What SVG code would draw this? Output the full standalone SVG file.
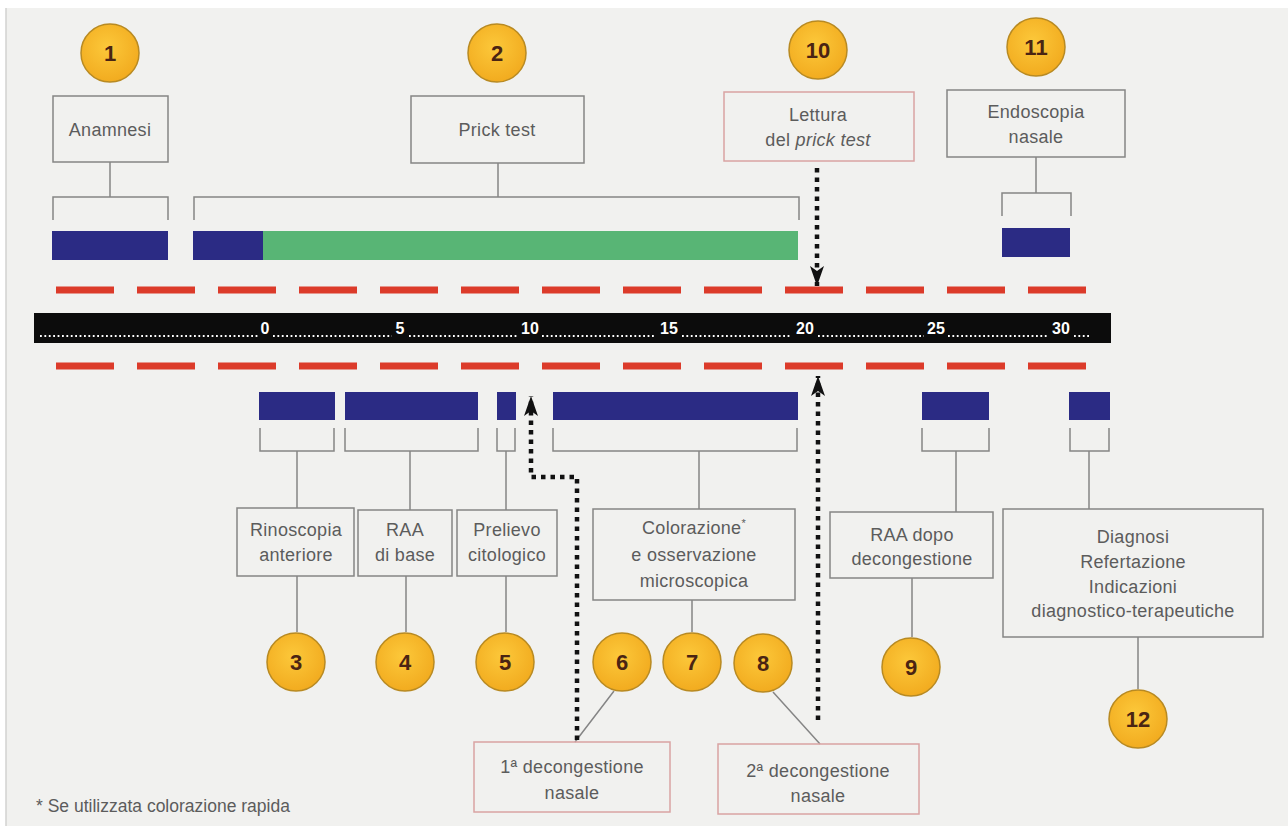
<svg xmlns="http://www.w3.org/2000/svg" width="1288" height="826" viewBox="0 0 1288 826">
<defs>
<radialGradient id="gold" cx="45%" cy="40%" r="65%">
<stop offset="0" stop-color="#fcc83a"/>
<stop offset="1" stop-color="#f1a91d"/>
</radialGradient>
<marker id="ah" viewBox="0 0 20 14" refX="20" refY="7" markerWidth="20" markerHeight="14" markerUnits="userSpaceOnUse" orient="auto">
<path d="M0,0 L20,7 L0,14 L5,7 z" fill="#111"/>
</marker>
<style>
.box{fill:none;stroke:#858585;stroke-width:1.5}
.rbox{fill:none;stroke:#d9a3a3;stroke-width:1.5}
.ln{fill:none;stroke:#858585;stroke-width:1.5}
.t{font-family:"Liberation Sans",Arial,sans-serif;font-size:18px;letter-spacing:0.3px;fill:#5c5c5c;text-anchor:middle}
.circ{fill:url(#gold);stroke:#b88a22;stroke-width:1.5}
.num{font-family:"Liberation Sans",Arial,sans-serif;font-size:22px;font-weight:bold;fill:#4a2413;text-anchor:middle}
.navy{fill:#2b2b84}
.dash{stroke:#dc3b2a;stroke-width:7;stroke-dasharray:58 23;fill:none}
.dot{fill:none;stroke:#111;stroke-width:4.5;stroke-dasharray:4.5 5}
.sc{font-family:"Liberation Sans",Arial,sans-serif;font-size:16px;font-weight:bold;fill:#fff;text-anchor:middle}
.sd{stroke:#fff;stroke-width:1.8;stroke-dasharray:1.8 2.6;fill:none}
</style>
</defs>
<rect x="0" y="0" width="1288" height="826" fill="#ffffff"/>
<rect x="6" y="8" width="1282" height="818" fill="#f1f1ef"/>
<line x1="6" y1="8" x2="6" y2="826" stroke="#d2d2d0" stroke-width="1.5"/>

<!-- timeline -->
<g id="timeline">
<line class="dash" x1="56" y1="290" x2="1090" y2="290"/>
<line class="dash" x1="56" y1="366" x2="1090" y2="366"/>
<rect x="34" y="313" width="1077" height="30" fill="#0c0c0c"/>
<path class="sd" d="M40,336 H258 M273,336 H392 M409,336 H518 M542,336 H656 M682,336 H792 M818,336 H924 M948,336 H1049 M1074,336 H1090"/>
<text class="sc" x="265" y="334">0</text>
<text class="sc" x="400" y="334">5</text>
<text class="sc" x="530" y="334">10</text>
<text class="sc" x="669" y="334">15</text>
<text class="sc" x="805" y="334">20</text>
<text class="sc" x="936" y="334">25</text>
<text class="sc" x="1061" y="334">30</text>
</g>

<!-- connectors -->
<g id="connectors">
<path class="ln" d="M110,162 V197 M53,220 V197 H168 V220"/>
<path class="ln" d="M498,163 V197 M194,220 V197 H799 V220"/>
<path class="ln" d="M1036,157 V193 M1002,216 V193 H1071 V216"/>
<path class="ln" d="M260,428 V451 H334 V428 M297,451 V508"/>
<path class="ln" d="M345,428 V451 H478 V428 M410,451 V510"/>
<path class="ln" d="M497,428 V451 H515 V428 M506,451 V510"/>
<path class="ln" d="M553,428 V451 H797 V428 M699,451 V509"/>
<path class="ln" d="M922,428 V451 H989 V428 M956,451 V512"/>
<path class="ln" d="M1070,428 V451 H1109 V428 M1089,451 V509"/>
<path class="ln" d="M297,576 V632 M406,576 V632 M506,576 V632 M692,600 V632 M912,578 V637 M1138,637 V689"/>
<path class="ln" d="M614,691 L575,742 M773,692 L820,744"/>
<path class="dot" d="M817,168 V286" marker-end="url(#ah)"/>
<path class="dot" d="M577,740 V477 H531 V396" marker-end="url(#ah)"/>
<path class="dot" d="M818,720 V376" marker-end="url(#ah)"/>
</g>

<!-- bars -->
<g id="bars">
<rect class="navy" x="52" y="231" width="116" height="29"/>
<rect class="navy" x="193" y="231" width="70" height="29"/>
<rect x="263" y="231" width="535" height="29" fill="#58b575"/>
<rect class="navy" x="1002" y="228" width="68" height="29"/>
<rect class="navy" x="259" y="392" width="76" height="28"/>
<rect class="navy" x="345" y="392" width="133" height="28"/>
<rect class="navy" x="497" y="392" width="19" height="28"/>
<rect class="navy" x="553" y="392" width="245" height="28"/>
<rect class="navy" x="922" y="392" width="67" height="28"/>
<rect class="navy" x="1069" y="392" width="41" height="28"/>
</g>

<g id="n1"><circle class="circ" cx="110" cy="53" r="29"/><text class="num" x="110" y="61">1</text></g>
<g id="n2"><circle class="circ" cx="497" cy="53" r="29"/><text class="num" x="497" y="61">2</text></g>
<g id="n10"><circle class="circ" cx="818" cy="50" r="29"/><text class="num" x="818" y="58">10</text></g>
<g id="n11"><circle class="circ" cx="1036" cy="47" r="29"/><text class="num" x="1036" y="55">11</text></g>
<g id="n3"><circle class="circ" cx="296" cy="662" r="29"/><text class="num" x="296" y="670">3</text></g>
<g id="n4"><circle class="circ" cx="405" cy="662" r="29"/><text class="num" x="405" y="670">4</text></g>
<g id="n5"><circle class="circ" cx="505" cy="662" r="29"/><text class="num" x="505" y="670">5</text></g>
<g id="n6"><circle class="circ" cx="622" cy="662" r="29"/><text class="num" x="622" y="670">6</text></g>
<g id="n7"><circle class="circ" cx="692" cy="662" r="29"/><text class="num" x="692" y="670">7</text></g>
<g id="n8"><circle class="circ" cx="763" cy="663" r="29"/><text class="num" x="763" y="671">8</text></g>
<g id="n9"><circle class="circ" cx="911" cy="667" r="29"/><text class="num" x="911" y="675">9</text></g>
<g id="n12"><circle class="circ" cx="1138" cy="719" r="29"/><text class="num" x="1138" y="727">12</text></g>

<g id="anamnesi"><rect class="box" x="53" y="96" width="115" height="66"/><text class="t" x="110" y="136">Anamnesi</text></g>
<g id="prick"><rect class="box" x="411" y="96" width="173" height="67"/><text class="t" x="497" y="136">Prick test</text></g>
<g id="lettura"><rect class="rbox" x="724" y="92" width="190" height="69"/><text class="t" x="818" y="121">Lettura</text><text class="t" x="818" y="146">del <tspan font-style="italic">prick test</tspan></text></g>
<g id="endoscopia"><rect class="box" x="947" y="90" width="178" height="67"/><text class="t" x="1036" y="118">Endoscopia</text><text class="t" x="1036" y="143">nasale</text></g>
<g id="rinoscopia"><rect class="box" x="237" y="508" width="117" height="68"/><text class="t" x="296" y="536">Rinoscopia</text><text class="t" x="296" y="561">anteriore</text></g>
<g id="raa"><rect class="box" x="358" y="510" width="94" height="66"/><text class="t" x="405" y="536">RAA</text><text class="t" x="405" y="561">di base</text></g>
<g id="prelievo"><rect class="box" x="457" y="510" width="100" height="66"/><text class="t" x="507" y="536">Prelievo</text><text class="t" x="507" y="561">citologico</text></g>
<g id="colorazione"><rect class="box" x="593" y="509" width="202" height="91"/><text class="t" x="694" y="534">Colorazione<tspan font-size="11" dy="-7">*</tspan></text><text class="t" x="694" y="561">e osservazione</text><text class="t" x="694" y="587">microscopica</text></g>
<g id="raadopo"><rect class="box" x="830" y="512" width="163" height="66"/><text class="t" x="912" y="541">RAA dopo</text><text class="t" x="912" y="565">decongestione</text></g>
<g id="diagnosi"><rect class="box" x="1003" y="509" width="260" height="128"/><text class="t" x="1133" y="543">Diagnosi</text><text class="t" x="1133" y="568">Refertazione</text><text class="t" x="1133" y="593">Indicazioni</text><text class="t" x="1133" y="617">diagnostico-terapeutiche</text></g>
<g id="decong1"><rect class="rbox" x="474" y="742" width="196" height="70"/><text class="t" x="572" y="773">1ª decongestione</text><text class="t" x="572" y="799">nasale</text></g>
<g id="decong2"><rect class="rbox" x="718" y="744" width="201" height="70"/><text class="t" x="818" y="777">2ª decongestione</text><text class="t" x="818" y="802">nasale</text></g>

<text x="36" y="812" font-family="'Liberation Sans',Arial,sans-serif" font-size="17.5" fill="#5c5c5c">*  Se utilizzata colorazione rapida</text>
</svg>
